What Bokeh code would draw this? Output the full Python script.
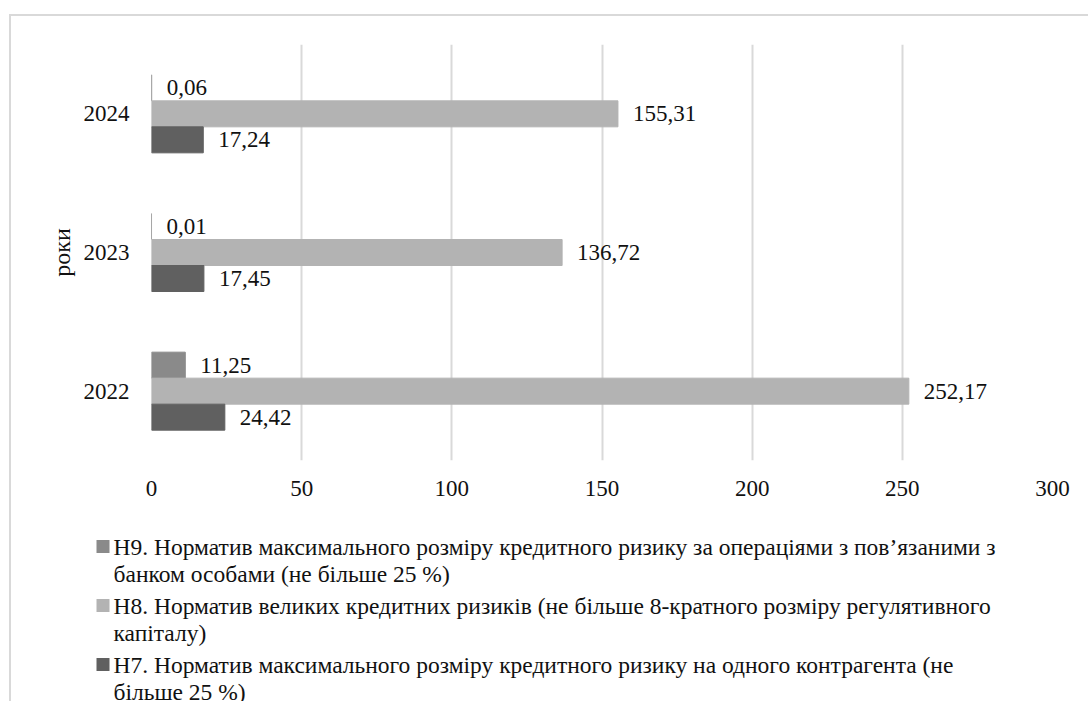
from bokeh.plotting import figure
from bokeh.layouts import column
from bokeh.models import ColumnDataSource, FactorRange, Range1d, FixedTicker
from bokeh.transform import dodge
from bokeh.core.properties import value
from bokeh.embed import file_html
from bokeh.resources import INLINE

# ---- data -------------------------------------------------------------
years = ["2022", "2023", "2024"]
h9_values = [11.25, 0.01, 0.06]
h8_values = [252.17, 136.72, 155.31]
h7_values = [24.42, 17.45, 17.24]
x_ticks = [0, 50, 100, 150, 200, 250, 300]
series_labels = [
    ("Н9. Норматив максимального розміру кредитного ризику за операціями з пов’язаними з",
     "банком особами (не більше 25 %)"),
    ("Н8. Норматив великих кредитних ризиків (не більше 8-кратного розміру регулятивного",
     "капіталу)"),
    ("Н7. Норматив максимального розміру кредитного ризику на одного контрагента (не",
     "більше 25 %)"),
]
series_colors = ["#8a8a8a", "#b3b3b3", "#606060"]

FAMILY = "Liberation Serif"
GRID = "#d9d9d9"
INK = "#111111"

# ---- bar chart ----------------------------------------------------------
chart = figure(
    width=1077, height=504,
    y_range=FactorRange(factors=years, range_padding=0),
    x_range=Range1d(0, 300),
    output_backend="svg", toolbar_location=None,
    min_border_left=140, min_border_right=36,
    min_border_top=28, min_border_bottom=60,
)
chart.frame_align = False
chart.outline_line_color = None

bar_h = 0.1875
offsets = [bar_h, 0.0, -bar_h]
for vals, color, off in zip([h9_values, h8_values, h7_values], series_colors, offsets):
    src = ColumnDataSource(dict(
        year=years,
        val=vals,
        lab=[f"{v:.2f}".replace(".", ",") for v in vals],
    ))
    ypos = dodge("year", off, range=chart.y_range)
    chart.hbar(y=ypos, left=0, right="val", height=bar_h, source=src,
               fill_color=color, line_color=color, line_width=1)
    chart.text(x="val", y=ypos, text="lab", source=src, x_offset=15,
               text_baseline="middle", text_align="left",
               text_font=value(FAMILY), text_font_size="23px", text_color=INK)

# axes
chart.xaxis.ticker = FixedTicker(ticks=x_ticks)
chart.xgrid.ticker = FixedTicker(ticks=x_ticks)
chart.xgrid.grid_line_color = GRID
chart.xgrid.grid_line_width = 2
chart.ygrid.grid_line_color = None

for ax in (chart.xaxis[0], chart.yaxis[0]):
    ax.axis_line_color = None
    ax.major_tick_line_color = None
    ax.minor_tick_line_color = None
    ax.major_tick_out = 0
    ax.major_tick_in = 0
    ax.major_label_text_font = FAMILY
    ax.major_label_text_font_size = "23px"
    ax.major_label_text_color = INK

chart.xaxis.major_label_standoff = 20
chart.yaxis.major_label_standoff = 22
chart.yaxis.axis_label = "роки"
chart.yaxis.axis_label_text_font = FAMILY
chart.yaxis.axis_label_text_font_size = "24px"
chart.yaxis.axis_label_text_font_style = "normal"
chart.yaxis.axis_label_text_color = INK
chart.yaxis.axis_label_standoff = 6

# ---- legend (pixel-space panel under the chart) -----------------------
leg_h = 181
legend = figure(
    width=1077, height=leg_h,
    x_range=Range1d(0, 1077), y_range=Range1d(leg_h, 0),
    output_backend="svg", toolbar_location=None,
    x_axis_location=None, y_axis_location=None,
    min_border=0,
)
legend.frame_align = False
legend.outline_line_color = None
legend.grid.grid_line_color = None

entry_top = [26, 85, 144]
line_gap = 27.5
for (l1, l2), color, y0 in zip(series_labels, series_colors, entry_top):
    legend.rect(x=[91.5], y=[y0], width=13, height=13,
                fill_color=color, line_color=None)
    legend.text(x=[102, 102], y=[y0, y0 + line_gap], text=[l1, l2],
                text_baseline="middle", text_align="left",
                text_font=value(FAMILY), text_font_size="23.5px", text_color=INK)

# framed panel holding chart and legend
panel = column(
    chart, legend,
    margin=(14, 0, 0, 9),
    styles={"border-top": f"2px solid {GRID}", "border-left": f"2px solid {GRID}"},
)
layout = column(panel)

open("out.html", "w").write(file_html(layout, INLINE))
